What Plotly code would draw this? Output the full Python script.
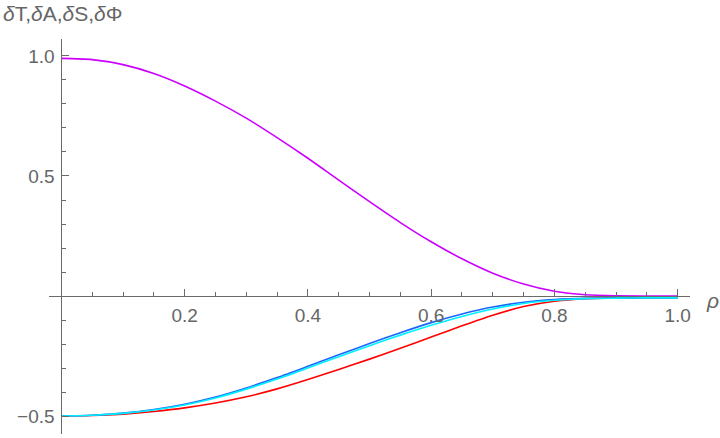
import plotly.graph_objects as go

# ---- data ----
rho = [0, 0.05, 0.1, 0.15, 0.2, 0.25, 0.3, 0.35, 0.4, 0.45, 0.5,
       0.55, 0.6, 0.65, 0.7, 0.75, 0.8, 0.85, 0.9, 0.95, 1.0]

delta_purple = [0.99, 0.985, 0.964, 0.927, 0.875, 0.812, 0.741, 0.660, 0.574, 0.483, 0.393,
                0.306, 0.226, 0.155, 0.095, 0.050, 0.020, 0.005, 0.0005, 0.0, 0.0]
delta_red = [-0.5, -0.498, -0.492, -0.481, -0.466, -0.446, -0.42, -0.387, -0.348, -0.306, -0.263,
             -0.218, -0.171, -0.124, -0.08, -0.044, -0.022, -0.011, -0.008, -0.0075, -0.0075]
delta_blue = [-0.5, -0.497, -0.488, -0.473, -0.451, -0.421, -0.383, -0.340, -0.293, -0.245, -0.198,
              -0.153, -0.111, -0.075, -0.046, -0.026, -0.015, -0.010, -0.0085, -0.008, -0.008]
delta_cyan = [-0.5, -0.497, -0.489, -0.475, -0.454, -0.425, -0.388, -0.346, -0.300, -0.253, -0.207,
              -0.163, -0.122, -0.085, -0.054, -0.031, -0.018, -0.011, -0.009, -0.008, -0.008]

x_major = [0.2, 0.4, 0.6, 0.8, 1.0]
x_major_text = ["0.2", "0.4", "0.6", "0.8", "1.0"]
x_minor = [0.05, 0.1, 0.15, 0.25, 0.3, 0.35, 0.45, 0.5, 0.55, 0.65, 0.7, 0.75, 0.85, 0.9, 0.95]
y_major = [-0.5, 0.5, 1.0]
y_major_text = ["\u22120.5", "0.5", "1.0"]
y_minor = [-0.4, -0.3, -0.2, -0.1, 0.1, 0.2, 0.3, 0.4, 0.6, 0.7, 0.8, 0.9]

series = [
    (delta_purple, "#CC00FF"),
    (delta_red, "#FF0000"),
    (delta_blue, "#1A66FF"),
    (delta_cyan, "#00F0FF"),
]

# ---- figure ----
xr = [-0.0201, 1.0200]
yr = [-0.575, 1.0708]
axis_col = "#6a6a6a"
text_col = "#666666"
font_fam = "Liberation Sans, Arial, sans-serif"
tick_size = 19

fig = go.Figure()
for vals, col in series:
    fig.add_trace(go.Scatter(x=rho, y=vals, mode="lines",
                             line=dict(color=col, width=1.6, shape="spline", smoothing=0.7),
                             hoverinfo="skip"))

fig.update_layout(
    width=720, height=438,
    margin=dict(l=49, r=30, t=39, b=4),
    plot_bgcolor="white", paper_bgcolor="white",
    showlegend=False,
    font=dict(family=font_fam, color=text_col, size=tick_size),
    xaxis=dict(range=xr, anchor="free", position=(0 - yr[0]) / (yr[1] - yr[0]),
               showline=True, linecolor=axis_col, linewidth=1,
               ticks="inside", ticklen=7, tickwidth=1, tickcolor=axis_col,
               tickmode="array", tickvals=x_major, ticktext=x_major_text,
               tickfont=dict(size=tick_size, color=text_col, family=font_fam),
               ticklabelstandoff=2,
               showgrid=False, zeroline=False, layer="above traces",
               minor=dict(tickmode="array", tickvals=x_minor, ticks="inside", ticklen=4,
                          tickwidth=1, tickcolor=axis_col, showgrid=False),
               automargin=False),
    yaxis=dict(range=yr, anchor="free", position=(0 - xr[0]) / (xr[1] - xr[0]),
               showline=True, linecolor=axis_col, linewidth=1,
               ticks="inside", ticklen=7, tickwidth=1, tickcolor=axis_col,
               tickmode="array", tickvals=y_major, ticktext=y_major_text,
               tickfont=dict(size=tick_size, color=text_col, family=font_fam),
               ticklabelstandoff=3,
               showgrid=False, zeroline=False, layer="above traces",
               minor=dict(tickmode="array", tickvals=y_minor, ticks="inside", ticklen=4,
                          tickwidth=1, tickcolor=axis_col, showgrid=False),
               automargin=False),
    annotations=[
        dict(text="<i>\u03b4</i>T,<i>\u03b4</i>A,<i>\u03b4</i>S,<i>\u03b4</i>\u03a6",
             xref="paper", yref="paper", x=0, y=1, xanchor="left", yanchor="middle",
             xshift=-48, yshift=26, showarrow=False,
             font=dict(size=21, color=text_col, family=font_fam)),
        dict(text="<i>\u03c1</i>", xref="paper", yref="y", x=1, y=0,
             xanchor="left", yanchor="middle", xshift=14, yshift=-4, showarrow=False,
             font=dict(size=21, color=text_col, family=font_fam)),
    ],
)

fig.write_html("out.html", config={"displayModeBar": False},
               post_script="document.body.style.margin='0px';")
